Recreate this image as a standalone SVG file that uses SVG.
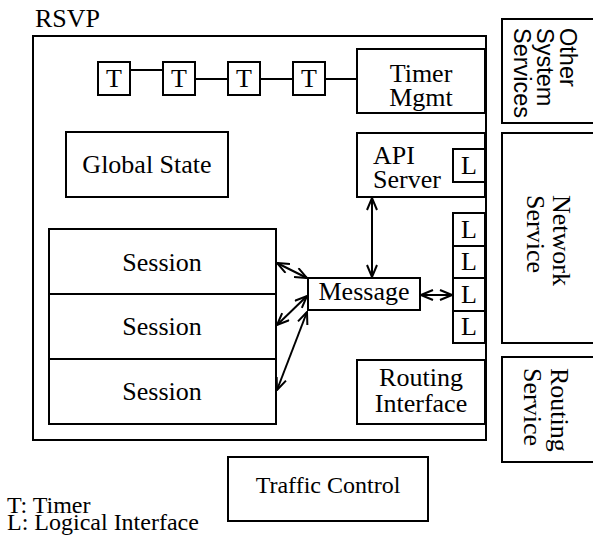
<svg xmlns="http://www.w3.org/2000/svg" width="593" height="535" viewBox="0 0 593 535">
<style>
  rect { fill: #fff; stroke: #000; stroke-width: 2; }
  .ln { stroke: #000; stroke-width: 2; fill: none; }
  .ar { stroke: #000; stroke-width: 2; fill: none; marker-start: url(#ah); marker-end: url(#ah); }
  text { font-family: "Liberation Serif", "Times New Roman", serif; font-size: 26px; fill: #000; }
  .c { text-anchor: middle; }
  .sm { font-size: 24px; }
  .sans { font-family: "Liberation Sans", Arial, sans-serif; font-size: 23.5px; }
</style>
<defs>
  <marker id="ah" viewBox="0 0 14 12" refX="13" refY="6" markerWidth="14" markerHeight="12" markerUnits="userSpaceOnUse" orient="auto-start-reverse">
    <path d="M1,1 L13,6 L1,11" fill="none" stroke="#000" stroke-width="2"/>
  </marker>
</defs>

<g id="rsvp">
  <rect x="33" y="36" width="453" height="404"/>
  <text x="35" y="27">RSVP</text>
</g>

<g id="connectors">
  <line class="ln" x1="130" y1="70" x2="163" y2="70"/>
  <line class="ln" x1="195" y1="79" x2="228" y2="79"/>
  <line class="ln" x1="260" y1="79" x2="293" y2="79"/>
  <line class="ln" x1="325" y1="79" x2="357" y2="79"/>
  <line class="ar" x1="372" y1="198" x2="372" y2="277"/>
  <line class="ar" x1="421" y1="295" x2="452" y2="295"/>
  <line class="ar" x1="277" y1="263" x2="307" y2="278"/>
  <line class="ar" x1="307" y1="296" x2="277" y2="325"/>
  <line class="ar" x1="307" y1="312" x2="277" y2="390"/>
</g>

<g id="t1"><rect x="98" y="62" width="32" height="33"/><text class="c" x="114" y="87">T</text></g>
<g id="t2"><rect x="163" y="62" width="32" height="33"/><text class="c" x="179" y="87">T</text></g>
<g id="t3"><rect x="228" y="62" width="32" height="33"/><text class="c" x="244" y="87">T</text></g>
<g id="t4"><rect x="293" y="62" width="32" height="33"/><text class="c" x="309" y="87">T</text></g>

<g id="timer-mgmt">
  <rect x="357" y="49" width="128" height="64"/>
  <text class="c" x="421" y="82">Timer</text>
  <text class="c" x="421" y="106">Mgmt</text>
</g>

<g id="global-state">
  <rect x="66" y="132" width="162" height="65"/>
  <text class="c" x="147" y="173">Global State</text>
</g>

<g id="api-server">
  <rect x="357" y="133" width="128" height="64"/>
  <text x="373" y="164">API</text>
  <text x="373" y="188">Server</text>
  <rect x="453" y="149" width="32" height="33"/>
  <text class="c" x="469" y="174">L</text>
</g>

<g id="session1"><rect x="49" y="229" width="227" height="65"/><text class="c" x="162" y="271">Session</text></g>
<g id="session2"><rect x="49" y="294" width="227" height="65"/><text class="c" x="162" y="335">Session</text></g>
<g id="session3"><rect x="49" y="359" width="227" height="65"/><text class="c" x="162" y="400">Session</text></g>

<g id="message">
  <rect x="308" y="278" width="112" height="32"/>
  <text class="c" x="364" y="300">Message</text>
</g>

<g id="l1"><rect x="453" y="213" width="32" height="33"/><text class="c" x="469" y="238">L</text></g>
<g id="l2"><rect x="453" y="246" width="32" height="32"/><text class="c" x="469" y="270">L</text></g>
<g id="l3"><rect x="453" y="278" width="32" height="33"/><text class="c" x="469" y="303">L</text></g>
<g id="l4"><rect x="453" y="311" width="32" height="32"/><text class="c" x="469" y="335">L</text></g>

<g id="routing-interface">
  <rect x="357" y="360" width="128" height="64"/>
  <text class="c" x="421" y="386">Routing</text>
  <text class="c" x="421" y="412">Interface</text>
</g>

<g id="other-system-services">
  <rect x="502" y="19" width="100" height="104"/>
  <text class="sans" transform="translate(560,28) rotate(90)">Other</text>
  <text class="sans" transform="translate(537,28) rotate(90)">System</text>
  <text class="sans" transform="translate(514,28) rotate(90)">Services</text>
</g>

<g id="network-service">
  <rect x="502" y="133" width="100" height="210"/>
  <text transform="translate(553,195) rotate(90)">Network</text>
  <text transform="translate(527,195) rotate(90)">Service</text>
</g>

<g id="routing-service">
  <rect x="502" y="357" width="100" height="105"/>
  <text transform="translate(551,368) rotate(90)">Routing</text>
  <text transform="translate(524,368) rotate(90)">Service</text>
</g>

<g id="traffic-control">
  <rect x="228" y="457" width="200" height="64"/>
  <text class="c sm" x="328" y="493">Traffic Control</text>
</g>

<g id="legend">
  <text class="sm" x="7" y="513">T: Timer</text>
  <text class="sm" x="7" y="530">L: Logical Interface</text>
</g>
</svg>
